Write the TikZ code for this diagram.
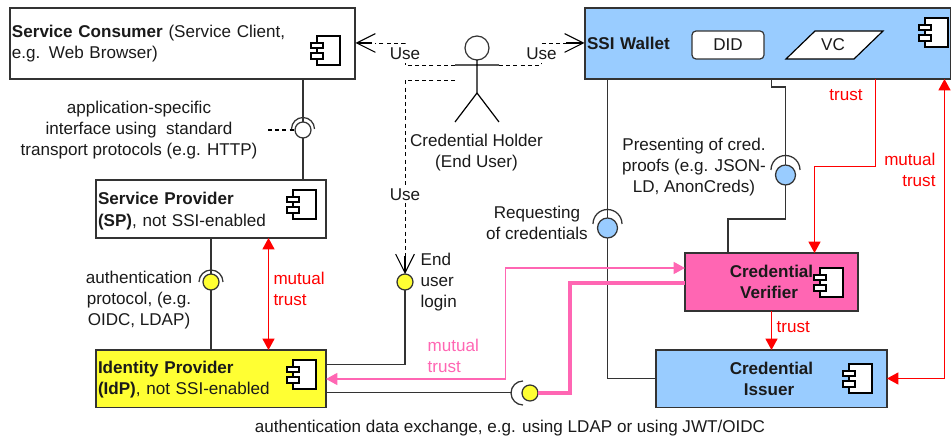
\documentclass[tikz,border=0pt]{standalone}
\usepackage{fontspec}
\setmainfont{Liberation Sans}
\usetikzlibrary{arrows.meta,shapes.geometric}
\definecolor{lineC}{HTML}{333333}
\definecolor{txtC}{HTML}{1A1A1A}
\definecolor{blueC}{HTML}{99CCFF}
\definecolor{pinkC}{HTML}{FF66B3}
\definecolor{yelC}{HTML}{FFFF33}
\definecolor{redC}{HTML}{FF0000}
\tikzset{
  x=0.75pt,y=-0.75pt,
  redtip/.tip={Triangle[length=8.5pt,width=9pt,fill=redC,color=redC]},
  pinktip/.tip={Triangle[length=8.5pt,width=9pt,fill=pinkC,color=pinkC]},
  every node/.style={font=\fontsize{12.8}{16}\selectfont,text=txtC,inner sep=0pt,outer sep=0pt},
  box/.style={draw=lineC,line width=1pt,anchor=north west,inner xsep=1.5pt,align=left},
  conn/.style={draw=lineC,line width=1pt},
  usedash/.style={draw=black,line width=0.7pt,dash pattern=on 3pt off 2.4pt},
  barb/.style={-{Straight Barb[length=14pt,width=14pt,line width=0.8pt]}},
  redln/.style={draw=redC,line width=1pt},
  lolly/.style={circle,draw=lineC,line width=0.95pt,minimum size=12pt},
  bigl/.style={circle,draw=lineC,line width=0.95pt,minimum size=15pt,fill=blueC},
  sock/.style={draw=lineC,line width=0.95pt},
  lbl/.style={align=center},
  red lbl/.style={text=redC,align=left},
  pink lbl/.style={text=pinkC,align=left},
  compicon/.pic={
    \draw[draw=black,line width=0.9pt,fill=white] (0,0) rectangle (23,29);
    \draw[draw=black,line width=0.9pt,fill=white] (-6,7) rectangle (6,12);
    \draw[draw=black,line width=0.9pt,fill=white] (-6,17) rectangle (6,23);
  }
}
\begin{document}
\begin{tikzpicture}
\useasboundingbox (0,0) rectangle (951,438);
% boxes
\node[box,minimum width=258.75pt,minimum height=53.25pt,text width=255.75pt] (sc) at (10,8)
  {\textbf{Service Consumer} (Service Client,\\e.g. Web Browser)};
\node[box,minimum width=172.5pt,minimum height=43.5pt,text width=169.5pt] (sp) at (96,180)
  {\rule{0pt}{12.2pt}\textbf{Service Provider}\\\textbf{(SP)}, not SSI-enabled};
\node[box,fill=yelC,minimum width=172.5pt,minimum height=43pt,text width=169.5pt] (idp) at (96,350)
  {\rule{0pt}{10.7pt}\textbf{Identity Provider}\\\textbf{(IdP)}, not SSI-enabled};
\node[box,fill=blueC,minimum width=274.5pt,minimum height=53.25pt,text width=271.5pt] (wallet) at (585,8)
  {\textbf{SSI Wallet}};
\node[box,fill=pinkC,minimum width=129.75pt,minimum height=43.5pt,text width=126pt,align=center] (ver) at (685,253)
  {\textbf{Credential}\hspace*{3.75pt}\\\textbf{Verifier}\hspace*{3.75pt}};
\node[box,fill=blueC,minimum width=173.25pt,minimum height=43pt,text width=170pt,align=center] (iss) at (656,350)
  {\textbf{Credential}\hspace*{3.75pt}\\\textbf{Issuer}\hspace*{3.75pt}};
\node[draw=lineC,line width=0.9pt,fill=white,rounded corners=3pt,minimum width=54pt,minimum height=21pt] (did) at (728,45) {DID};
\coordinate (vcA) at (786,59); \coordinate (vcB) at (815,31); \coordinate (vcC) at (883,31); \coordinate (vcD) at (854,59);
\draw[draw=black,line width=0.9pt,fill=white] (vcA) -- (vcB) -- (vcC) -- (vcD) -- cycle;
\node (vc) at (833,44.5) {VC};
% icons
\pic at (317,36) {compicon};
\pic at (293,190) {compicon};
\pic at (293,360) {compicon};
\pic at (925,18) {compicon};
\pic at (820,268) {compicon};
\pic at (849,364) {compicon};
% actor
\node[circle,draw=lineC,line width=0.9pt,minimum size=18pt,fill=white] (head) at (477,48) {};
\coordinate (hip) at (477,93);
\coordinate (armL) at (455,65); \coordinate (armR) at (499,65);
\coordinate (legL) at (455,122); \coordinate (legR) at (499,122);
\draw[draw=black,line width=0.9pt] (head.south) -- (hip) (armL) -- (armR) (legL) -- (hip) -- (legR);
\node[lbl] (holder) at (476.5,152.5) {Credential Holder\\(End User)};
% lollipops
\node[lolly,fill=white] (l1) at (303,130) {};
\node[lolly,fill=yelC] (l2) at (211,282) {};
\node[lolly,fill=yelC] (l3) at (405,282) {};
\node[lolly,fill=yelC] (l4) at (530,393) {};
\node[bigl] (l5) at (607.5,228) {};
\node[bigl] (l6) at (785.5,175) {};
% sockets
\draw[sock] (291.5,129) arc[start angle=180,end angle=360,radius=11.5];
\draw[sock] (199,282) arc[start angle=180,end angle=360,radius=12];
\draw[sock] (593,224) arc[start angle=180,end angle=360,radius=14.5];
\draw[sock] (771,170) arc[start angle=180,end angle=360,radius=14.5];
\draw[sock] (523,381) arc[start angle=270,end angle=90,radius=12];
% solid connectors
\draw[conn] (sc.south -| l1) -- (l1.north);
\draw[conn] (l1.south) -- (sp.north -| l1);
\draw[conn] (sp.south -| l2) -- (l2.north);
\draw[conn] (l2.south) -- (idp.north -| l2);
\coordinate (idpA) at (326,364.5);
\draw[conn] (l3.south) -- (l3 |- idpA) -- (idpA);
\coordinate (idpB) at (326,392.5);
\draw[conn] (idpB) -- (511.5,392.5);
\draw[conn] (wallet.south -| l5) -- (l5.north);
\coordinate (issW) at (656,378.5);
\draw[conn] (l5.south) -- (l5 |- issW) -- (issW);
\coordinate (w2) at (771.5,79);
\draw[conn] (w2) -- (771.5,87) -- (785.5,87) -- (l6.north);
\coordinate (v2) at (728,253);
\draw[conn] (l6.south) -- (785.5,219) -- (728,219) -- (v2);
% dashed stubs and use connectors
\coordinate (dashIf) at (268,130);
\draw[usedash,line width=1pt] (dashIf) -- (l1.west);
\coordinate (scE) at (355.5,43);
\coordinate (wlW) at (584.5,43);
\draw[usedash] (armL) -- (405,65) -- (405,43) -- (375,43);
\draw[barb,draw=black,line width=0.8pt] (372,43) -- (scE);
\draw[usedash] (armR) -- (541.5,65) -- (541.5,43) -- (568,43);
\draw[barb,draw=black,line width=0.8pt] (566,43) -- (wlW);
\coordinate (armL2) at (455,80);
\draw[usedash] (armL2) -- (405,80) -- (405,258);
\draw[barb,draw=black,line width=0.8pt] (405,256) -- (l3.north);
\node[fill=white,inner xsep=1pt,minimum height=14.5pt] (u1) at (405,53.5) {Use};
\node[fill=white,inner xsep=1pt,minimum height=14.5pt] (u2) at (541.5,53.5) {Use};
\node[fill=white,inner xsep=1pt,inner ysep=1pt] (u3) at (405,195) {Use};
% red trust
\draw[redln,{redtip}-{redtip}] (sp.south -| 268.5,0) -- (idp.north -| 268.5,0);
\draw[redln,-{redtip}] (875.5,79) -- (875.5,166.5) -- (814.5,166.5) -- (ver.north -| 814.5,0);
\draw[redln,{redtip}-{redtip}] (wallet.south -| 944.5,0) -- (944.5,378.5) -- (iss.east |- 0,378.5);
\draw[redln,-{redtip}] (ver.south -| 771.5,0) -- (iss.north -| 771.5,0);
% pink
\coordinate (pinkV) at (505.5,268);
\draw[draw=pinkC,line width=1.1pt,{pinktip}-{pinktip}] (idp.east |- 0,379) -- (505.5,379) -- (pinkV) -- (ver.west |- pinkV);
\draw[draw=pinkC,line width=3pt] (l4.east) -- (570,393) -- (570,283) -- (ver.west |- 0,283);
% labels
\node[lbl] (t1) at (139,130) {application-specific\\interface using\ \ standard\\transport protocols (e.g. HTTP)};
\node[lbl] (t2) at (139,300) {authentication\\protocol, (e.g.\\OIDC, LDAP)};
\node[align=left,anchor=west] (t3) at (420.7,282) {End\\user\\login};
\node[red lbl,anchor=west] (t4) at (273.5,289) {mutual\\trust};
\node[pink lbl,anchor=west] (t5) at (427.7,356) {mutual\\trust};
\node (t6) at (510,428) {authentication data exchange, e.g. using LDAP or using JWT/OIDC};
\node[lbl] (t7) at (537,223) {Requesting\\of credentials};
\node[lbl] (t8) at (694,167) {Presenting of cred.\\proofs (e.g. JSON-\\LD, AnonCreds)};
\node[text=redC] (t9) at (846,95) {trust};
\node[text=redC,align=right,anchor=east] (t10) at (935.5,170) {mutual\\trust};
\node[text=redC,anchor=west] (t11) at (776.7,327) {trust};
\end{tikzpicture}
\end{document}
